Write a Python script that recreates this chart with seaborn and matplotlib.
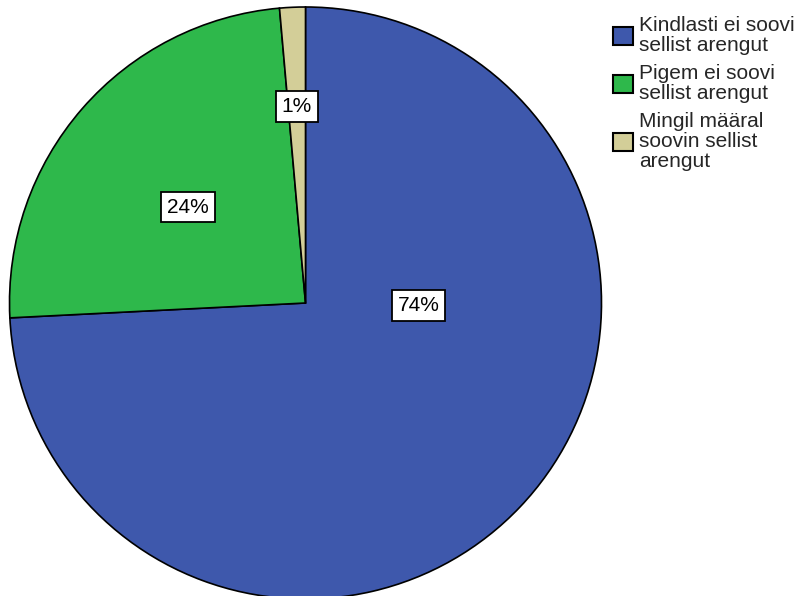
import numpy as np
import matplotlib.pyplot as plt
import seaborn as sns

# --- Data ---
categories = ["Kindlasti ei soovi\nsellist arengut",
              "Pigem ei soovi\nsellist arengut",
              "Mingil määral\nsoovin sellist\narengut"]
shares = [74.2, 24.4, 1.4]
colors = ["#3e58ac", "#2eb84b", "#d3ce98"]

# label centres, in units of the pie radius
label_pos = [(0.382, -0.008), (-0.397, 0.324), (-0.029, 0.664)]

sns.set_theme(style="white")
plt.rcParams['font.family'] = ['Liberation Sans', 'DejaVu Sans']

fig = plt.figure(figsize=(8.03, 5.96), dpi=100)
cx, cy, r = 305.5, 303, 296  # pie centre / radius in pixels
ax = fig.add_axes([(cx - r) / 803, (596 - cy - r) / 596, 2 * r / 803, 2 * r / 596])

wedges, texts, autotexts = ax.pie(
    shares, colors=colors, startangle=90, counterclock=False,
    autopct=lambda p: f"{p:.0f}%",
    wedgeprops=dict(edgecolor='black', linewidth=1.2),
    textprops=dict(fontsize=15, color='black'))
for w in wedges:
    w.set_clip_on(False)
for t, (x, y) in zip(autotexts, label_pos):
    t.set_position((x, y))
    t.set_bbox(dict(boxstyle='square,pad=0.28', fc='white', ec='black', lw=1.3))
ax.set_xlim(-1, 1)
ax.set_ylim(-1, 1)
ax.set_aspect('equal')
ax.axis('off')

leg = fig.legend(wedges, categories, loc='upper left',
                 bbox_to_anchor=(613 / 803, 1 - 16 / 596),
                 frameon=False, fontsize=15, handlelength=0.95, handleheight=0.95,
                 handletextpad=0.3, labelspacing=0.45, borderaxespad=0, borderpad=0)
for t in leg.get_texts():
    t.set_linespacing(1.05)
for h in leg.legend_handles:
    h.set_linewidth(1.5)

fig.savefig('out.png', dpi=100)
